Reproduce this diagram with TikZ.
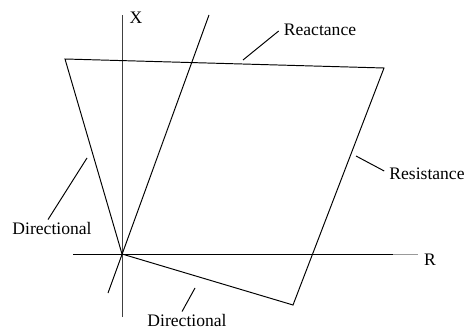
\documentclass[tikz,border=0pt]{standalone}
\usepackage{fontspec}
\setmainfont{Liberation Serif}
\usetikzlibrary{calc}

\begin{document}
\begin{tikzpicture}[x=0.02cm, y=-0.02cm, line width=0.55pt,
    lbl/.style={font=\fontsize{10}{12}\selectfont, inner sep=1pt}]
\useasboundingbox (0,0) rectangle (465,330);
% Axes
\coordinate (O) at (122,254);
\coordinate (Xtop) at (122,15);
\coordinate (Xbot) at (122,317);
\coordinate (Rleft) at (73,254);
\coordinate (Rmid) at (393,254);
\coordinate (Rright) at (418,254);
\draw[black!75] (Xbot) -- (Xtop);
\draw (Rleft) -- (Rmid);
\draw[black!40] (Rmid) -- (Rright);
\node[lbl] (xlab) at (136,18) {X};
\node[lbl] (rlab) at (430,260) {R};

% Quadrilateral characteristic
\coordinate (TL) at (65,59);
\coordinate (TR) at (384,68);
\coordinate (BR) at (293,305);
\draw (O) -- (TL) -- (TR) -- (BR) -- cycle;

% Directional line through origin
\coordinate (Dlow) at (108,293);
\coordinate (Dhigh) at (209,15);
\draw (Dlow) -- (Dhigh);

% Labels with leaders
\node[lbl] (react) at (320,30) {Reactance};
\coordinate (reactpt) at (243,60);
\draw (reactpt) -- ($(react.west)+(-3,1)$);

\node[lbl] (resist) at (427,174) {Resistance};
\coordinate (resistpt) at (356,156);
\draw (resistpt) -- ($(resist.west)+(-3,-3)$);

\node[lbl] (dirleft) at (52,228) {Directional};
\coordinate (dirleftpt) at (87,158);
\draw (dirleftpt) -- ($(dirleft.north)+(-4,0)$);

\node[lbl] (dirbot) at (187,320) {Directional};
\coordinate (dirbotpt) at (195,288);
\draw (dirbotpt) -- ($(dirbot.north)+(-5,0)$);
\end{tikzpicture}
\end{document}
